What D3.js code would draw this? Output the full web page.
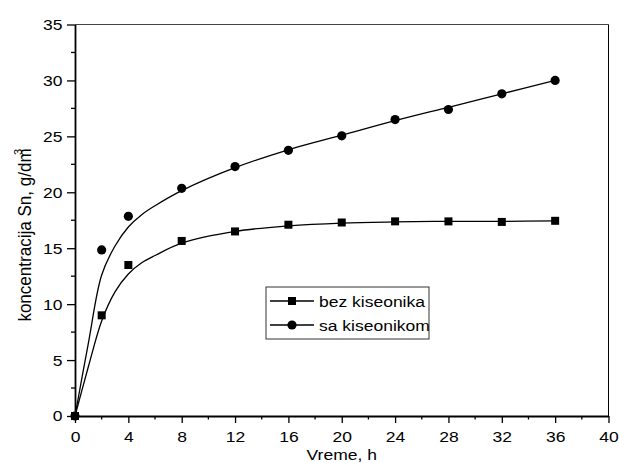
<!DOCTYPE html>
<html>
<head>
<meta charset="utf-8">
<script src="https://cdn.jsdelivr.net/npm/d3@7"></script>
<style>
  body { margin: 0; background: #fff; }
  text { font-family: Arial, "Liberation Sans", sans-serif; fill: #000; }
</style>
</head>
<body>
<div id="chart"></div>
<script>
// measured points
var hours = [0, 2, 4, 8, 12, 16, 20, 24, 28, 32, 36];
var bezKiseonika = [0, 9.0, 13.5, 15.65, 16.5, 17.1, 17.3, 17.4, 17.4, 17.35, 17.45];
var saKiseonikom = [0, 14.85, 17.85, 20.35, 22.3, 23.75, 25.05, 26.5, 27.4, 28.8, 30.0];

// fitted curves
var fitHours = [0, 1, 2, 3, 4, 5, 6, 8, 12, 16, 20, 24, 28, 32, 36];
var fitBez = [0, 4.4, 8.5, 11.1, 12.7, 13.7, 14.35, 15.45, 16.5, 17.0, 17.25, 17.35, 17.4, 17.4, 17.45];
var fitSa = [0, 6.5, 12.6, 15.2, 16.9, 18.0, 18.8, 20.15, 22.2, 23.8, 25.1, 26.4, 27.6, 28.8, 30.0];

var xTicks = [0, 4, 8, 12, 16, 20, 24, 28, 32, 36, 40];
var yTicks = [0, 5, 10, 15, 20, 25, 30, 35];
var legendLabels = ["bez kiseonika", "sa kiseonikom"];

var width = 619, height = 463;
var margin = { top: 24.5, right: 10.5, bottom: 47, left: 75 };
var innerW = width - margin.left - margin.right,
    innerH = height - margin.top - margin.bottom;
var fontSize = "15.5px", stretch = "scale(1.13,1)";

var svg = d3.select("#chart").append("svg")
    .attr("width", width)
    .attr("height", height);

var g = svg.append("g")
    .attr("transform", "translate(" + margin.left + "," + margin.top + ")");

var x = d3.scaleLinear().domain([0, 40]).range([0, innerW]);
var y = d3.scaleLinear().domain([0, 35]).range([innerH, 0]);

// frame top/right
g.append("line").attr("x1", 0).attr("x2", innerW).attr("y1", 0).attr("y2", 0)
    .attr("stroke", "#444").attr("stroke-width", 1);
g.append("line").attr("x1", innerW).attr("x2", innerW).attr("y1", 0).attr("y2", innerH)
    .attr("stroke", "#000").attr("stroke-width", 1);

// minor ticks
g.append("g").selectAll("line.xminor")
    .data(d3.range(2, 40, 4))
    .enter().append("line")
    .attr("x1", d => x(d)).attr("x2", d => x(d))
    .attr("y1", innerH).attr("y2", innerH + 3.5)
    .attr("stroke", "#000").attr("stroke-width", 1.3);
g.append("g").selectAll("line.yminor")
    .data(d3.range(2.5, 35, 5))
    .enter().append("line")
    .attr("x1", 0).attr("x2", -4)
    .attr("y1", d => y(d)).attr("y2", d => y(d))
    .attr("stroke", "#000").attr("stroke-width", 1.3);

var xAxis = g.append("g")
    .attr("transform", "translate(0," + innerH + ")")
    .call(d3.axisBottom(x).tickValues(xTicks).tickSize(7).tickPadding(8).tickSizeOuter(0));
var yAxis = g.append("g")
    .call(d3.axisLeft(y).tickValues(yTicks).tickSize(8).tickPadding(4).tickSizeOuter(0));

[xAxis, yAxis].forEach(a => {
    a.select(".domain").attr("stroke", "#000").attr("stroke-width", 1.8);
    a.selectAll(".tick line").attr("stroke", "#000").attr("stroke-width", 1.3);
    a.selectAll(".tick text")
        .style("font-family", "Arial, 'Liberation Sans', sans-serif")
        .style("font-size", fontSize)
        .attr("fill", "#000");
});
xAxis.selectAll(".tick text").attr("transform", stretch);
yAxis.selectAll(".tick text").attr("x", -11).attr("transform", stretch);

// fitted curves
var line = d3.line()
    .x(d => x(d[0]))
    .y(d => y(d[1]))
    .curve(d3.curveCatmullRom.alpha(0.5));

[fitBez, fitSa].forEach(vals => {
    g.append("path")
        .datum(fitHours.map((h, i) => [h, vals[i]]))
        .attr("d", line)
        .attr("fill", "none")
        .attr("stroke", "#000")
        .attr("stroke-width", 1.3);
});

// markers
g.append("g").selectAll("rect")
    .data(hours.map((h, i) => [h, bezKiseonika[i]]))
    .enter().append("rect")
    .attr("x", d => x(d[0]) - 4)
    .attr("y", d => y(d[1]) - 4)
    .attr("width", 8).attr("height", 8)
    .attr("fill", "#000");

g.append("g").selectAll("circle")
    .data(hours.map((h, i) => [h, saKiseonikom[i]]))
    .enter().append("circle")
    .attr("cx", d => x(d[0]))
    .attr("cy", d => y(d[1]))
    .attr("r", 4.6)
    .attr("fill", "#000");

// legend
var legend = svg.append("g").attr("transform", "translate(266,287)");
legend.append("rect")
    .attr("width", 163).attr("height", 52)
    .attr("fill", "#fff").attr("stroke", "#333").attr("stroke-width", 1);

var items = legend.selectAll("g.item")
    .data(legendLabels)
    .enter().append("g")
    .attr("class", "item")
    .attr("transform", (d, i) => "translate(0," + (14 + i * 24) + ")");

items.append("line")
    .attr("x1", 4).attr("x2", 48)
    .attr("stroke", "#000").attr("stroke-width", 1.3);
items.filter((d, i) => i == 0).append("rect")
    .attr("x", 22).attr("y", -4).attr("width", 8).attr("height", 8).attr("fill", "#000");
items.filter((d, i) => i == 1).append("circle")
    .attr("cx", 26).attr("r", 4.6).attr("fill", "#000");
items.append("text")
    .attr("transform", "translate(53,0) " + stretch)
    .attr("dy", "0.36em")
    .style("font-size", fontSize)
    .text(d => d);

// axis titles
svg.append("text")
    .attr("transform", "translate(" + (margin.left + innerW / 2) + ",460) " + stretch)
    .attr("text-anchor", "middle")
    .style("font-size", fontSize)
    .text("Vreme, h");

var yTitle = svg.append("text")
    .attr("transform", "translate(31,235) rotate(-90) scale(1.1,1.13)")
    .attr("text-anchor", "middle")
    .style("font-size", fontSize);
yTitle.append("tspan").text("koncentracija Sn, g/dm");
yTitle.append("tspan")
    .attr("dx", -6).attr("dy", -8)
    .style("font-size", "10px")
    .text("3");
</script>
</body>
</html>
